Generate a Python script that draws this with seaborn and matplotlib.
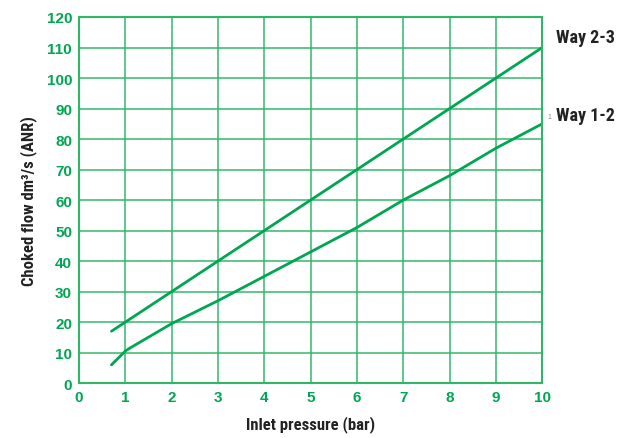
import numpy as np
import pandas as pd
import matplotlib
matplotlib.use("Agg")
import matplotlib.pyplot as plt
import seaborn as sns

# data
pressure_23 = [0.7, 1, 2, 3, 4, 5, 6, 7, 8, 9, 10]
flow_23 = [17, 20, 30, 40, 50, 60, 70, 80, 90, 100, 110]
pressure_12 = [0.7, 1, 1.1, 2, 3, 4, 5, 6, 7, 8, 9, 10]
flow_12 = [6, 10.5, 11.5, 19.5, 27, 35, 43, 51, 60, 68, 77, 85]

x_ticks = list(range(0, 11))
y_ticks = list(range(0, 121, 10))

green = "#00a651"
grid_green = "#2db866"
narrow = ['Roboto Condensed', 'Liberation Sans Narrow', 'Arial Narrow', 'Liberation Sans', 'DejaVu Sans']

sns.set_style("white")
plt.rcParams['font.family'] = ['Liberation Sans', 'DejaVu Sans']

df = pd.concat([
    pd.DataFrame({"p": pressure_23, "q": flow_23, "way": "Way 2-3"}),
    pd.DataFrame({"p": pressure_12, "q": flow_12, "way": "Way 1-2"}),
])

fig = plt.figure(figsize=(6.32, 4.39), dpi=100)
ax = fig.add_axes([0.125, 0.125, 0.733, 0.834])

sns.lineplot(data=df, x="p", y="q", units="way", estimator=None, color=green,
             linewidth=2, ax=ax, sort=False)

ax.set_xlim(0, 10)
ax.set_ylim(0, 120)
ax.set_xticks(x_ticks)
ax.set_yticks(y_ticks)
ax.grid(True, color=grid_green, linewidth=1.2, alpha=0.9)
ax.set_axisbelow(True)
for s in ax.spines.values():
    s.set_color(grid_green)
    s.set_linewidth(1.5)
ax.tick_params(length=0, pad=5, colors=green, labelsize=11)
for lab in ax.get_xticklabels() + ax.get_yticklabels():
    lab.set_fontweight("bold")

ax.set_xlabel("Inlet pressure (bar)", fontsize=12, fontweight="bold", color="#222222",
              labelpad=8, family=narrow)
ax.set_ylabel("Choked flow dm³/s (ANR)", fontsize=12, fontweight="bold", color="#222222",
              labelpad=7, family=narrow)

ax.text(1.03, 113.5 / 120, "Way 2-3", transform=ax.transAxes, fontsize=13,
        fontweight="bold", color="#222222", va="center", ha="left", family=narrow)
ax.text(1.03, 88 / 120, "Way 1-2", transform=ax.transAxes, fontsize=13,
        fontweight="bold", color="#222222", va="center", ha="left", family=narrow)
ax.text(1.012, 87.5 / 120, "1", transform=ax.transAxes, fontsize=5,
        color="#888888", va="center", ha="left")

fig.savefig("out.png", dpi=100)
